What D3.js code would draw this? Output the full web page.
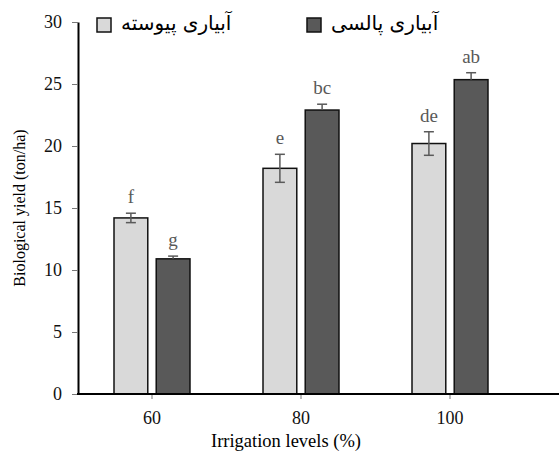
<!DOCTYPE html>
<html>
<head>
<meta charset="utf-8">
<script src="https://cdn.jsdelivr.net/npm/d3@7"></script>
<style>
  body { margin: 0; background: #fff; }
  svg { display: block; }
</style>
</head>
<body>
<svg id="chart" width="559" height="453"></svg>
<script>
const levels = ["60", "80", "100"];
const seriesNames = ["آبیاری پیوسته", "آبیاری پالسی"];
const continuous = [14.2, 18.2, 20.2];
const continuousErr = [0.38, 1.13, 0.95];
const pulsed = [10.9, 22.9, 25.35];
const pulsedErr = [0.22, 0.47, 0.56];
const continuousLetters = ["f", "e", "de"];
const pulsedLetters = ["g", "bc", "ab"];
const yTicks = [0, 5, 10, 15, 20, 25, 30];

const colors = ["#d9d9d9", "#595959"];
const serif = "'Liberation Serif', 'Times New Roman', serif";

const svg = d3.select("#chart");
const width = 559;
const marginLeft = 78, plotTop = 22, plotBottom = 394;

const y = d3.scaleLinear().domain([0, 30]).range([plotBottom, plotTop]);
const x = d3.scaleBand().domain(levels).range([77.5, 524.5])
    .paddingInner(0.49).paddingOuter(0.245);
const x1 = d3.scaleBand().domain([0, 1]).range([0, x.bandwidth()]).paddingInner(0.2);

const rows = [];
levels.forEach((lv, i) => {
    rows.push({ level: lv, s: 0, value: continuous[i], err: continuousErr[i], letter: continuousLetters[i] });
    rows.push({ level: lv, s: 1, value: pulsed[i], err: pulsedErr[i], letter: pulsedLetters[i] });
});

// bars
svg.append("g").selectAll("rect")
    .data(rows)
    .join("rect")
    .attr("x", d => x(d.level) + x1(d.s))
    .attr("y", d => y(d.value))
    .attr("width", x1.bandwidth())
    .attr("height", d => y(0) - y(d.value))
    .attr("fill", d => colors[d.s])
    .attr("stroke", "#111")
    .attr("stroke-width", 1.5);

// error bars (dark bars only show the upper half)
const eb = svg.append("g").attr("stroke", "#5a5a5a").attr("stroke-width", 1.5);
rows.forEach(d => {
    const cx = x(d.level) + x1(d.s) + x1.bandwidth() / 2;
    const lo = d.s === 1 ? d.value : d.value - d.err;
    eb.append("line").attr("x1", cx).attr("x2", cx).attr("y1", y(d.value + d.err)).attr("y2", y(lo));
    eb.append("line").attr("x1", cx - 5).attr("x2", cx + 5).attr("y1", y(d.value + d.err)).attr("y2", y(d.value + d.err));
    if (d.s === 0) {
        eb.append("line").attr("x1", cx - 5).attr("x2", cx + 5).attr("y1", y(lo)).attr("y2", y(lo));
    }
});

// significance letters
svg.append("g").selectAll("text")
    .data(rows)
    .join("text")
    .attr("x", d => x(d.level) + x1(d.s) + x1.bandwidth() / 2)
    .attr("y", d => y(d.value + d.err) - 10)
    .attr("text-anchor", "middle")
    .attr("fill", "#595959")
    .style("font-family", serif)
    .style("font-size", "19px")
    .text(d => d.letter);

// y axis
const yAxis = svg.append("g")
    .attr("transform", `translate(${marginLeft},0)`)
    .call(d3.axisLeft(y).tickValues(yTicks).tickSize(6).tickSizeOuter(0).tickPadding(10));
yAxis.select(".domain").attr("stroke", "#000").attr("stroke-width", 2);
yAxis.selectAll(".tick line").attr("stroke", "#777");
yAxis.selectAll("text").style("font-family", serif).style("font-size", "18px").attr("fill", "#111");

// x axis
const xAxis = svg.append("g")
    .attr("transform", `translate(0,${plotBottom})`)
    .call(d3.axisBottom(x).tickSize(4).tickSizeOuter(0));
xAxis.select(".domain").remove();
xAxis.append("line").attr("x1", marginLeft - 1).attr("x2", width).attr("stroke", "#000").attr("stroke-width", 2);
xAxis.selectAll(".tick line").attr("stroke", "#777").attr("transform", "translate(0,1)");
xAxis.selectAll("text")
    .attr("y", 30).attr("dy", null)
    .style("font-family", serif).style("font-size", "18px").attr("fill", "#111");

// axis titles
svg.append("text")
    .attr("x", 286).attr("y", 447)
    .attr("text-anchor", "middle")
    .style("font-family", serif).style("font-size", "18.5px")
    .text("Irrigation levels (%)");
svg.append("text")
    .attr("transform", "translate(25,208) rotate(-90)")
    .attr("text-anchor", "middle")
    .style("font-family", serif).style("font-size", "16px")
    .text("Biological yield (ton/ha)");

// legend
const legendX = [97, 307];
seriesNames.forEach((name, i) => {
    svg.append("rect")
        .attr("x", legendX[i]).attr("y", 18)
        .attr("width", 14).attr("height", 14)
        .attr("fill", colors[i]).attr("stroke", "#111").attr("stroke-width", 1.5);
    svg.append("text")
        .attr("x", legendX[i] + 24).attr("y", 30)
        .attr("text-anchor", "start")
        .style("font-family", "'DejaVu Sans', sans-serif")
        .style("font-size", "20px")
        .text(name);
});
</script>
</body>
</html>
